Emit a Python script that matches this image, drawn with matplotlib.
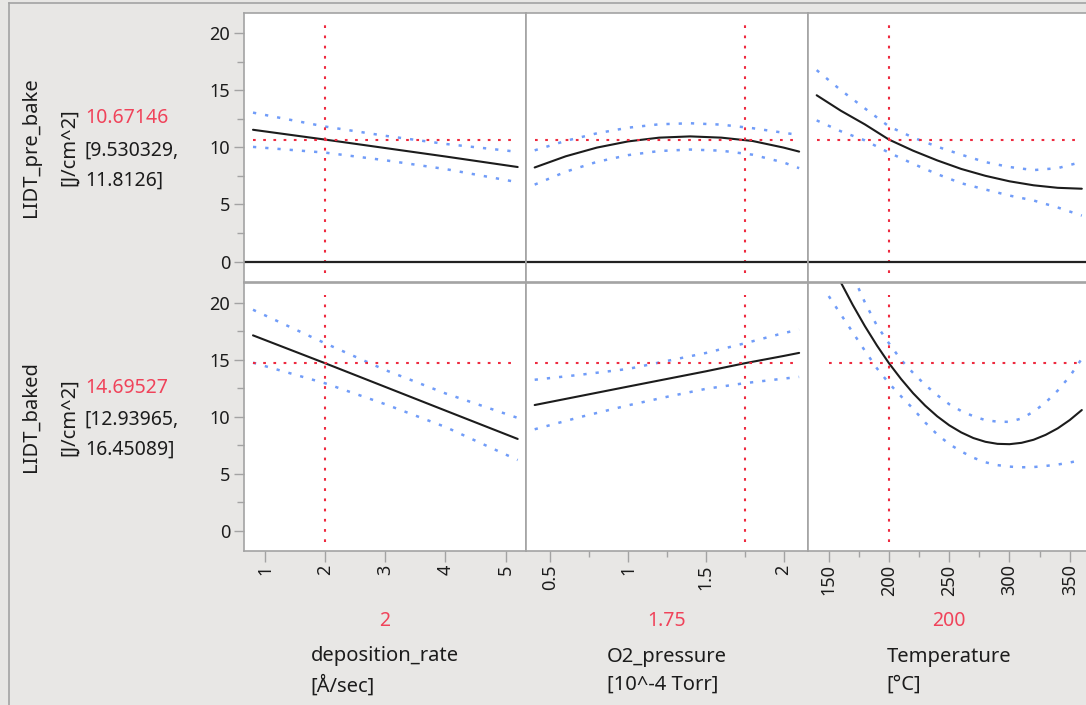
import matplotlib
matplotlib.use("Agg")
import matplotlib.pyplot as plt
from matplotlib.ticker import FixedLocator

plt.rcParams['font.family'] = ['Noto Sans', 'DejaVu Sans']

# factors (columns)
factor_names = ["deposition_rate", "O2_pressure", "Temperature"]
factor_units = ["[Å/sec]", "[10^-4 Torr]", "[°C]"]
factor_current = [2, 1.75, 200]
factor_current_text = ["2", "1.75", "200"]
factor_ticks = [[1, 2, 3, 4, 5], [0.5, 1, 1.5, 2], [150, 200, 250, 300, 350]]
factor_tick_labels = [["1", "2", "3", "4", "5"], ["0.5", "1", "1.5", "2"],
                      ["150", "200", "250", "300", "350"]]
factor_minor = [[], [0.75, 1.25, 1.75], [175, 225, 275, 325]]
factor_lims = [(0.642, 5.33), (0.341, 2.157), (132.8, 366.8)]

# responses (rows)
response_names = ["LIDT_pre_bake", "LIDT_baked"]
response_unit = "[J/cm^2]"
response_pred = [10.67146, 14.69527]
response_pred_text = ["10.67146", "14.69527"]
response_ci_text = [["[9.530329,", "11.8126]"], ["[12.93965,", "16.45089]"]]

# deposition_rate profiles
dep_x = [0.8, 2, 3, 4, 5.2]
pre_dep_mean = [11.53, 10.67, 9.93, 9.19, 8.27]
pre_dep_upper = [13.03, 11.81, 11.0, 10.29, 9.6]
pre_dep_lower = [10.03, 9.53, 8.86, 8.09, 6.94]
bak_dep_mean = [17.15, 14.7, 12.62, 10.54, 8.05]
bak_dep_upper = [19.4, 16.45, 14.1, 12.05, 9.9]
bak_dep_lower = [14.75, 12.94, 11.1, 9.1, 6.2]

# O2_pressure profiles
pre_o2_x = [0.4, 0.6, 0.8, 1.0, 1.2, 1.4, 1.6, 1.8, 2.0, 2.1]
pre_o2_mean = [8.23, 9.21, 9.97, 10.51, 10.84, 10.95, 10.84, 10.55, 9.97, 9.62]
pre_o2_upper = [9.73, 10.56, 11.22, 11.71, 12.01, 12.10, 11.98, 11.67, 11.27, 11.07]
pre_o2_lower = [6.73, 7.86, 8.72, 9.31, 9.67, 9.80, 9.70, 9.35, 8.67, 8.17]
bak_o2_x = [0.4, 0.7, 1.0, 1.25, 1.5, 1.75, 2.0, 2.1]
bak_o2_mean = [11.03, 11.84, 12.65, 13.32, 13.99, 14.7, 15.34, 15.61]
bak_o2_upper = [13.25, 13.7, 14.2, 14.9, 15.6, 16.45, 17.35, 17.65]
bak_o2_lower = [8.9, 10.0, 11.0, 11.75, 12.45, 12.95, 13.35, 13.5]

# Temperature profiles
pre_t_x = [140, 160, 180, 200, 220, 240, 260, 280, 300, 320, 340, 360]
pre_t_mean = [14.55, 13.2, 12.0, 10.67, 9.7, 8.85, 8.1, 7.5, 7.02, 6.67, 6.45, 6.37]
pre_t_upper = [16.75, 15.0, 13.4, 11.82, 10.85, 10.05, 9.35, 8.7, 8.27, 8.0, 8.17, 8.72]
pre_t_lower = [12.35, 11.4, 10.6, 9.53, 8.55, 7.65, 6.85, 6.3, 5.77, 5.34, 4.73, 4.02]
bak_t_x = [150, 160, 170, 180, 190, 200, 210, 220, 230, 240, 250, 260, 270, 280,
           290, 300, 310, 320, 330, 340, 350, 360]
bak_t_mean = [23.96, 21.81, 19.81, 17.96, 16.26, 14.7, 13.32, 12.07, 10.98, 10.04,
              9.25, 8.62, 8.13, 7.8, 7.62, 7.59, 7.71, 7.98, 8.41, 8.98, 9.71, 10.59]
bak_t_upper = [27.2, 24.8, 22.4, 20.05, 18.0, 16.45, 15.0, 13.85, 12.8, 11.9, 11.1,
               10.5, 10.05, 9.7, 9.57, 9.55, 9.85, 10.45, 11.25, 12.3, 13.55, 15.1]
bak_t_lower = [20.6, 19.0, 17.4, 15.8, 14.25, 12.94, 11.8, 10.7, 9.5, 8.45, 7.6,
               6.95, 6.4, 6.0, 5.75, 5.62, 5.56, 5.58, 5.68, 5.8, 5.98, 6.2]

profiles = [
    [(dep_x, pre_dep_mean, pre_dep_upper, pre_dep_lower),
     (pre_o2_x, pre_o2_mean, pre_o2_upper, pre_o2_lower),
     (pre_t_x, pre_t_mean, pre_t_upper, pre_t_lower)],
    [(dep_x, bak_dep_mean, bak_dep_upper, bak_dep_lower),
     (bak_o2_x, bak_o2_mean, bak_o2_upper, bak_o2_lower),
     (bak_t_x, bak_t_mean, bak_t_upper, bak_t_lower)],
]

W, H = 1086, 705
BG = '#e8e7e5'
FRAME = '#a3a3a3'
RED = '#ee2a3f'
RED_TXT = '#f0435a'
BLUE = '#4d84f7'
TXT = '#1c1c1c'

fig = plt.figure(figsize=(W / 100, H / 100), dpi=100, facecolor=BG)


def fx(px):
    return px / W


def fy(py):
    return 1 - py / H


# outer frame lines
fig.add_artist(plt.Line2D([fx(8.5), fx(8.5)], [fy(2.5), 0], color=FRAME, lw=1.2))
fig.add_artist(plt.Line2D([fx(8.5), 1], [fy(2.5), fy(2.5)], color=FRAME, lw=1.2))

col_edges = [243.5, 525.5, 808, 1090]
row_edges = [(13, 281.5), (283, 550.5)]
ylim = (-1.75, 21.75)

for r in range(2):
    top, bot = row_edges[r]
    for c in range(3):
        left, right = col_edges[c], col_edges[c + 1]
        ax = fig.add_axes([fx(left), fy(bot), fx(right) - fx(left), (bot - top) / H])
        ax.set_facecolor('white')
        for s in ax.spines.values():
            s.set_color(FRAME)
            s.set_linewidth(1.2)
        ax.set_xlim(*factor_lims[c])
        ax.set_ylim(*ylim)

        xs, mean, upper, lower = profiles[r][c]
        dots = (0, (1.3, 3.6))
        ax.plot(xs, upper, color=BLUE, lw=1.8, ls=dots, alpha=0.8)
        ax.plot(xs, lower, color=BLUE, lw=1.8, ls=dots, alpha=0.8)
        ax.plot(xs, mean, color=TXT, lw=1.5, solid_capstyle='round')

        x0 = factor_current[c]
        ax.plot([x0, x0], [-1.0, 20.7], color=RED, lw=1.5, ls=dots)
        ax.plot([xs[0], xs[-1]], [response_pred[r], response_pred[r]],
                color=RED, lw=1.5, ls=dots)
        if r == 0:
            ax.axhline(0, color='#222222', lw=1.6)

        # ticks
        if c == 0:
            ax.yaxis.set_major_locator(FixedLocator([0, 5, 10, 15, 20]))
            ax.yaxis.set_minor_locator(FixedLocator([2.5, 7.5, 12.5, 17.5]))
            ax.tick_params(axis='y', which='major', length=7.5, width=1, color=FRAME,
                           labelsize=13, labelcolor=TXT, pad=2)
            ax.tick_params(axis='y', which='minor', length=5, width=1, color=FRAME)
        else:
            ax.set_yticks([])
        if r == 1:
            ax.set_xticks(factor_ticks[c])
            ax.set_xticklabels(factor_tick_labels[c], rotation=90)
            ax.xaxis.set_minor_locator(FixedLocator(factor_minor[c]))
            ax.tick_params(axis='x', which='major', length=8, width=1, color=FRAME,
                           labelsize=13, labelcolor=TXT, pad=2)
            ax.tick_params(axis='x', which='minor', length=4, width=1, color=FRAME)
        else:
            ax.set_xticks([])

# response labels on the left
for r in range(2):
    top, bot = row_edges[r]
    yc = (top + bot) / 2
    fig.text(fx(31), fy(yc), response_names[r], rotation=90, ha='center', va='center',
             fontsize=14.5, color=TXT)
    fig.text(fx(69), fy(yc), response_unit, rotation=90, ha='center', va='center',
             fontsize=14.5, color=TXT)
    fig.text(fx(85), fy(yc - 29), response_pred_text[r], ha='left', va='center',
             fontsize=14, color=RED_TXT)
    fig.text(fx(85), fy(yc + 3), response_ci_text[r][0], ha='left', va='center',
             fontsize=14, color=TXT)
    fig.text(fx(85), fy(yc + 33), response_ci_text[r][1], ha='left', va='center',
             fontsize=14, color=TXT)

# factor labels at the bottom
for c in range(3):
    xc = (col_edges[c] + col_edges[c + 1]) / 2
    fig.text(fx(xc), fy(621), factor_current_text[c], ha='center', va='center',
             fontsize=14, color=RED_TXT)
    fig.text(fx(xc), fy(671), factor_names[c] + "\n" + factor_units[c], ha='center',
             va='center', multialignment='left', fontsize=14.5, color=TXT,
             linespacing=1.55)

fig.savefig("out.png", dpi=100, facecolor=BG)
